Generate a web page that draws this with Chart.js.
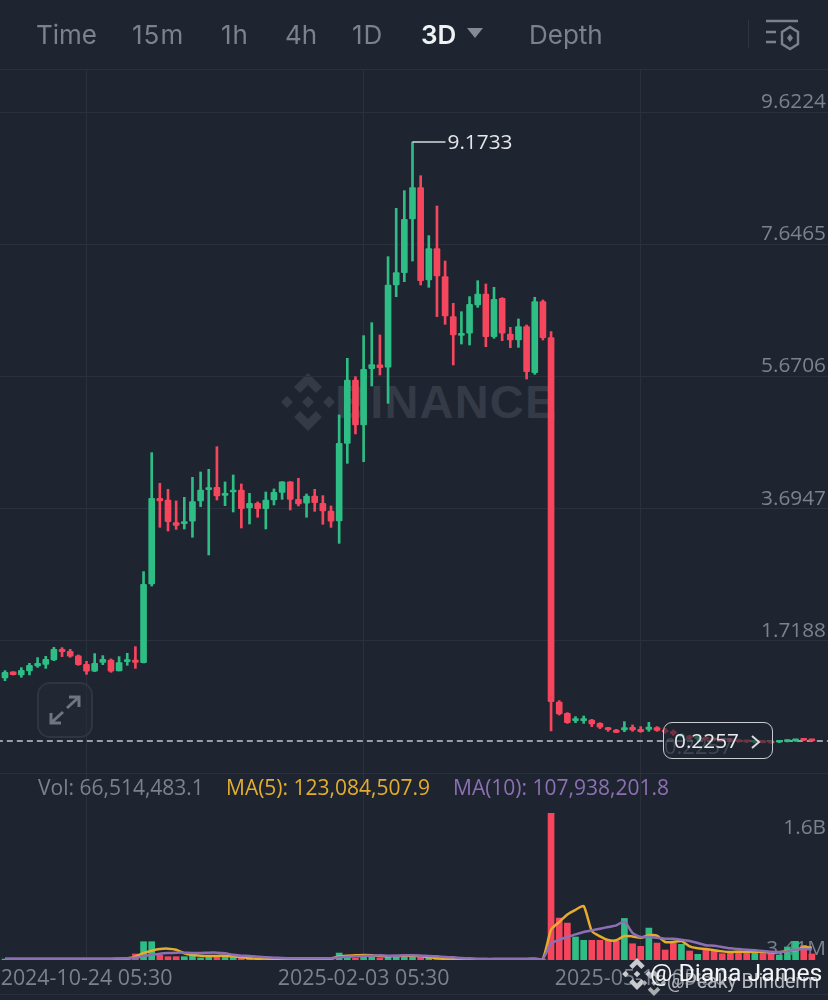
<!DOCTYPE html>
<html>
<head>
<meta charset="utf-8">
<title>3D chart</title>
<script src="https://cdn.jsdelivr.net/npm/chart.js@4/dist/chart.umd.min.js"></script>
<style>
html, body { margin: 0; padding: 0; background: #1e2530; }
#page { position: relative; width: 828px; height: 1000px; overflow: hidden; background: #1e2530; font-family: Inter, sans-serif; }
#page canvas { position: absolute; left: 0; top: 0; z-index: 2; }
.t { position: absolute; white-space: nowrap; line-height: 1; z-index: 3; }
.tab { top: 22px; font-size: 26px; color: #7b828e; }
.leg { top: 777px; font-size: 21px; font-family: "Open Sans", sans-serif; }
.hline { position: absolute; left: 0; width: 828px; height: 1px; background: #2b313c; z-index: 1; }
#mark { position: absolute; left: 335px; top: 378px; font: bold 47px "Liberation Sans", sans-serif; letter-spacing: 1.2px; color: #343a46; z-index: 1; line-height: 1; }
#markLogo { position: absolute; left: 279px; top: 373px; z-index: 1; }
#priceBox { position: absolute; left: 663px; top: 722px; width: 108px; height: 35px; border: 1.5px solid #c9ccd1; border-radius: 9px; background: rgba(30,37,48,.62); z-index: 4; }
#priceBox span { position: absolute; left: 10px; top: 7px; font: 20.8px/1 "Open Sans", sans-serif; color: #e8eaec; }
#priceBox .ghost { left: 0; top: 11px; font-size: 22px; color: rgba(125,133,143,.35); }
#priceBox svg { position: absolute; left: 86px; top: 11px; }
#expand { position: absolute; left: 37px; top: 682px; width: 52px; height: 52px; border: 2px solid #2f3541; border-radius: 13px; background: rgba(36,42,53,.5); z-index: 3; }
</style>
</head>
<body>
<div id="page">
  <span class="t tab" style="left:36px">Time</span>
  <span class="t tab" style="left:132px;letter-spacing:1px">15m</span>
  <span class="t tab" style="left:221px;letter-spacing:1px">1h</span>
  <span class="t tab" style="left:285px">4h</span>
  <span class="t tab" style="left:352px;letter-spacing:1px">1D</span>
  <span class="t tab" style="left:421px;color:#f0f1f2;font-weight:600">3D</span>
  <svg style="position:absolute;left:466px;top:27px;z-index:3" width="18" height="12"><polygon points="1,1 17,1 9,11" fill="#848b96"/></svg>
  <span class="t tab" style="left:529px">Depth</span>
  <div style="position:absolute;left:748px;top:20px;width:1px;height:28px;background:#2f3540"></div>
  <svg style="position:absolute;left:764px;top:18px;z-index:3" width="38" height="34" fill="none" stroke="#7b828e" stroke-width="2.4">
    <path d="M2 3H34M2 14H12M2 24H12"/>
    <polygon points="26,9 34,14 34,26 26,31 18,26 18,14"/>
    <polygon points="26,16 29,20 26,24 23,20" fill="#7b828e" stroke="none"/>
  </svg>

  <div class="hline" style="top:69px"></div>
  <div class="hline" style="top:994px"></div>

  <svg width="0" height="0" style="position:absolute">
    <symbol id="bnb" viewBox="0 0 58 58">
      <polygon points="29,0 43,14 37,20 29,12 21,20 15,14"/>
      <polygon points="8,23 14,29 8,35 2,29"/>
      <polygon points="50,23 56,29 50,35 44,29"/>
      <polygon points="29,23 35,29 29,35 23,29"/>
      <polygon points="29,58 43,44 37,38 29,46 21,38 15,44"/>
    </symbol>
  </svg>
  <svg id="markLogo" width="58" height="58" fill="#343a46"><use href="#bnb"/></svg>
  <div id="mark">BINANCE</div>

  <canvas id="chart" width="828" height="1000"></canvas>

  <div id="expand">
    <svg width="52" height="52" fill="none" stroke="#6f7682" stroke-width="3">
      <path d="M12 39L24 28M28 24L40 13M30 13H40V23M12 29V39H22"/>
    </svg>
  </div>

  <div id="priceBox"><span class="ghost">0.2257</span><span>0.2257</span>
    <svg width="12" height="16" fill="none" stroke="#d8dade" stroke-width="2"><path d="M2 2L9 8L2 14"/></svg>
  </div>

  <span class="t leg" style="left:38px;color:#7b828e">Vol: 66,514,483.1</span>
  <span class="t leg" style="left:226px;color:#e5ad2d">MA(5): 123,084,507.9</span>
  <span class="t leg" style="left:453px;color:#8d70b3">MA(10): 107,938,201.8</span>

  <svg style="position:absolute;left:621px;top:958px;z-index:5" width="32" height="32" fill="#c9cbcf"><use href="#bnb"/></svg>
  <svg style="position:absolute;left:641px;top:970px;z-index:5" width="26" height="26" fill="#a9acb1"><use href="#bnb"/></svg>
  <span class="t" style="left:667px;top:972px;font:19.5px/1 Roboto,sans-serif;color:#b6b9be;z-index:5">@Peaky Blinderm</span>
  <span class="t" style="left:650px;top:961px;font:24.8px/1 Roboto,sans-serif;color:#f4f5f6;z-index:6">@ Diana James</span>
</div>

<script>
// one entry per 3D candle
const open = [1.166,1.256,1.211,1.271,1.345,1.370,1.435,1.594,1.564,1.495,1.370,1.266,1.400,1.435,1.271,1.410,1.435,1.395,2.570,3.850,
  3.825,3.487,3.472,3.507,3.811,3.980,4.015,3.895,3.945,3.975,3.706,3.776,3.696,3.825,3.940,4.095,3.835,3.776,3.885,3.776,
  3.661,3.512,4.672,5.618,4.946,5.788,5.843,5.808,7.038,7.222,8.024,8.492,7.113,7.581,7.162,6.565,6.286,6.316,6.739,6.903,
  6.266,6.838,6.306,6.216,6.415,5.728,6.789,6.251,0.807,0.638,0.528,0.528,0.538,0.488,0.419,0.389,0.389,0.429,0.399,0.399,
  0.424,0.389,0.369,0.290,0.300,0.260,0.280,0.260,0.245,0.240,0.235,0.225,0.205,0.215,0.210,0.205,0.215,0.225,0.240,0.232];
const close = [1.251,1.216,1.281,1.355,1.385,1.445,1.594,1.559,1.490,1.365,1.266,1.385,1.445,1.266,1.395,1.440,1.400,2.565,3.850,3.811,
  3.502,3.447,3.502,3.801,3.975,4.010,3.885,3.925,3.975,3.696,3.776,3.696,3.825,3.940,4.095,3.835,3.766,3.885,3.786,3.661,
  3.507,4.672,5.618,4.946,5.778,5.847,5.803,7.038,7.222,8.019,8.492,7.103,7.581,7.172,6.575,6.291,6.316,6.749,6.903,6.266,
  6.823,6.316,6.216,6.415,5.743,6.789,6.251,0.812,0.628,0.498,0.548,0.553,0.478,0.429,0.394,0.354,0.424,0.389,0.364,0.434,
  0.384,0.359,0.329,0.320,0.270,0.280,0.250,0.240,0.230,0.225,0.215,0.210,0.220,0.200,0.195,0.225,0.230,0.245,0.235,0.2257];
const high = [1.276,1.260,1.320,1.385,1.470,1.490,1.624,1.619,1.594,1.510,1.415,1.530,1.500,1.450,1.485,1.535,1.634,2.755,4.533,4.075,
  3.985,3.811,3.865,4.164,4.244,4.284,4.622,4.095,4.199,4.065,3.925,3.796,3.945,3.990,4.100,4.100,4.149,3.915,3.985,3.890,
  3.736,5.096,5.942,5.668,6.281,6.475,6.291,7.461,8.183,8.447,9.1733,8.671,7.775,8.218,7.396,6.764,6.639,6.864,7.102,7.053,
  7.003,6.848,6.405,6.530,6.440,6.854,6.814,6.341,0.827,0.648,0.588,0.598,0.548,0.498,0.429,0.399,0.513,0.464,0.439,0.503,
  0.439,0.414,0.389,0.335,0.310,0.290,0.290,0.270,0.250,0.245,0.240,0.230,0.225,0.220,0.215,0.230,0.235,0.250,0.245,0.240];
const low = [1.126,1.210,1.176,1.211,1.325,1.310,1.425,1.485,1.475,1.355,1.221,1.261,1.365,1.251,1.271,1.355,1.310,1.390,2.540,3.417,
  3.362,3.387,3.392,3.268,3.726,3.004,3.825,3.741,3.646,3.407,3.467,3.567,3.392,3.751,3.835,3.676,3.736,3.567,3.656,3.462,
  3.417,3.178,4.373,4.812,4.398,5.529,5.693,5.270,6.863,7.087,7.396,7.038,7.003,6.565,6.450,5.843,6.156,6.141,6.704,6.116,
  6.241,6.206,6.101,6.106,5.633,5.703,6.216,0.374,0.613,0.488,0.498,0.488,0.439,0.409,0.369,0.349,0.364,0.369,0.354,0.369,
  0.369,0.339,0.309,0.285,0.260,0.250,0.240,0.230,0.220,0.215,0.205,0.200,0.195,0.195,0.190,0.200,0.210,0.220,0.230,0.220];

// volume and moving averages, in millions
const volume = [12,10,14,12,10,14,18,10,10,12,14,14,10,14,16,22,80,242,242,66,
  44,44,44,66,28,44,57,35,35,35,22,18,16,14,12,12,10,10,10,12,
  14,92,35,26,35,35,26,35,35,35,35,35,35,18,14,12,10,10,10,10,
  10,8,8,8,10,12,12,1940,554,488,304,260,260,260,260,251,550,215,181,422,
  224,132,224,207,119,75,128,128,83,92,119,106,92,106,102,66,172,247,194,80];
const ma5 = [14,14,14,14,13,13,13,13,13,13,13,14,14,14,16,22,44,92,123,145,
  150,136,88,66,57,53,53,57,48,35,26,18,18,9,6,6,8,10,12,14,
  20,48,57,62,66,62,53,48,53,57,57,53,35,26,13,9,6,6,8,10,
  12,12,12,12,14,16,18,400,502,603,664,713,383,312,264,260,317,312,295,326,
  321,238,238,251,180,154,145,128,114,106,110,110,110,110,101,101,119,128,172,163];
const ma10 = [16,16,16,16,16,16,16,16,16,16,16,16,16,18,20,22,31,53,70,84,
  92,97,97,92,92,97,97,88,70,57,53,44,35,31,26,22,22,22,22,22,
  24,35,44,48,53,57,62,57,57,62,62,57,53,48,40,35,26,22,18,15,
  13,13,13,13,13,13,18,216,268,304,339,370,392,414,436,458,510,356,304,304,
  295,282,282,268,251,224,194,189,172,154,145,136,128,119,110,106,114,136,145,141];

// axes
const priceTicks = [9.6224, 7.6465, 5.6706, 3.6947, 1.7188, -0.2571];
const priceLabels = ['9.6224', '7.6465', '5.6706', '3.6947', '1.7188', ''];
const volTicks = [1600, 3.41];
const volLabels = ['1.6B', '3.41M'];
const dateTicks = [10, 44, 78];
const dateLabels = ['2024-10-24 05:30', '2025-02-03 05:30', '2025-05-16 05:30'];
const lastPrice = 0.2257;
const maxPrice = 9.1733;

const UP = '#2ebd85';
const DOWN = '#f6465d';
const GRID = '#2b313c';
const TEXT = '#7b828e';
const LABEL_FONT = { family: 'Open Sans', size: 20.8 };

const candleColor = open.map((o, i) => (close[i] >= o ? UP : DOWN));
const wicks = high.map((h, i) => ({ x: i, y: [low[i], h] }));
const bodies = open.map((o, i) => ({ x: i, y: [o, close[i]] }));
const volumeBars = volume.map((v, i) => ({ x: i, y: v }));
const ma5Line = ma5.map((v, i) => ({ x: i, y: v }));
const ma10Line = ma10.map((v, i) => ({ x: i, y: v }));

// the little line and number at the top candle
const highLabel = {
    id: 'highLabel',
    afterDatasetsDraw(chart) {
        const ctx = chart.ctx;
        const i = high.indexOf(maxPrice);
        const x = chart.scales.x.getPixelForValue(i);
        const y = chart.scales.y.getPixelForValue(maxPrice);
        ctx.save();
        ctx.strokeStyle = '#d8dade';
        ctx.lineWidth = 1.5;
        ctx.beginPath();
        ctx.moveTo(x, y);
        ctx.lineTo(x + 33, y);
        ctx.stroke();
        ctx.fillStyle = '#e4e6e8';
        ctx.font = '20.8px "Open Sans"';
        ctx.textBaseline = 'middle';
        ctx.fillText(maxPrice.toFixed(4), x + 35, y + 1);
        ctx.restore();
    }
};

new Chart(document.getElementById('chart').getContext('2d'), {
    type: 'bar',
    plugins: [highLabel],
    data: {
        datasets: [
            {
                type: 'line',
                data: [{ x: -1, y: lastPrice }, { x: 102, y: lastPrice }],
                yAxisID: 'y',
                borderColor: '#c4c7cc',
                borderWidth: 1.5,
                borderDash: [6, 4],
                pointRadius: 0,
                order: 5
            },
            {
                data: wicks,
                yAxisID: 'y',
                backgroundColor: candleColor,
                barThickness: 2,
                minBarLength: 2,
                order: 4
            },
            {
                data: bodies,
                yAxisID: 'y',
                backgroundColor: candleColor,
                barThickness: 6,
                borderRadius: 1,
                borderSkipped: false,
                minBarLength: 2,
                order: 3
            },
            {
                data: volumeBars,
                yAxisID: 'yVol',
                backgroundColor: candleColor,
                barThickness: 6,
                order: 2
            },
            {
                type: 'line',
                data: ma5Line,
                yAxisID: 'yVol',
                borderColor: '#e5ad2d',
                borderWidth: 2.5,
                pointRadius: 0,
                tension: 0.2,
                order: 1
            },
            {
                type: 'line',
                data: ma10Line,
                yAxisID: 'yVol',
                borderColor: '#8d70b3',
                borderWidth: 2.5,
                pointRadius: 0,
                tension: 0.2,
                order: 0
            }
        ]
    },
    options: {
        responsive: false,
        animation: false,
        devicePixelRatio: 1,
        events: [],
        layout: { padding: { top: 69, left: 0, right: 0, bottom: 0 } },
        plugins: { legend: { display: false }, tooltip: { enabled: false } },
        datasets: { bar: { grouped: false } },
        scales: {
            x: {
                type: 'linear',
                offset: false,
                min: -0.6135,
                max: 100.98,
                border: { display: false },
                grid: { offset: false, color: GRID, tickColor: 'transparent', tickLength: 6 },
                afterFit(scale) { scale.height = 40; },
                afterBuildTicks(scale) { scale.ticks = dateTicks.map(v => ({ value: v })); },
                ticks: {
                    autoSkip: false,
                    maxRotation: 0,
                    padding: 0,
                    color: TEXT,
                    font: { family: 'Open Sans', size: 21.4 },
                    callback: v => dateLabels[dateTicks.indexOf(v)]
                }
            },
            y: {
                position: 'right',
                min: -3.048,
                max: 10.265,
                border: { display: false },
                grid: { color: GRID, drawTicks: false },
                afterFit(scale) { scale.width = 0; },
                afterBuildTicks(scale) { scale.ticks = priceTicks.map(v => ({ value: v })); },
                ticks: {
                    autoSkip: false,
                    mirror: true,
                    padding: -2,
                    labelOffset: -10,
                    color: TEXT,
                    font: LABEL_FONT,
                    callback: v => priceLabels[priceTicks.indexOf(v)]
                }
            },
            yVol: {
                position: 'right',
                min: 0,
                max: 11780,
                border: { display: false },
                grid: { display: false },
                afterFit(scale) { scale.width = 0; },
                afterBuildTicks(scale) { scale.ticks = volTicks.map(v => ({ value: v })); },
                ticks: {
                    autoSkip: false,
                    mirror: true,
                    padding: -2,
                    labelOffset: -11,
                    color: TEXT,
                    font: LABEL_FONT,
                    callback: v => volLabels[volTicks.indexOf(v)]
                }
            }
        }
    }
});
</script>
</body>
</html>
